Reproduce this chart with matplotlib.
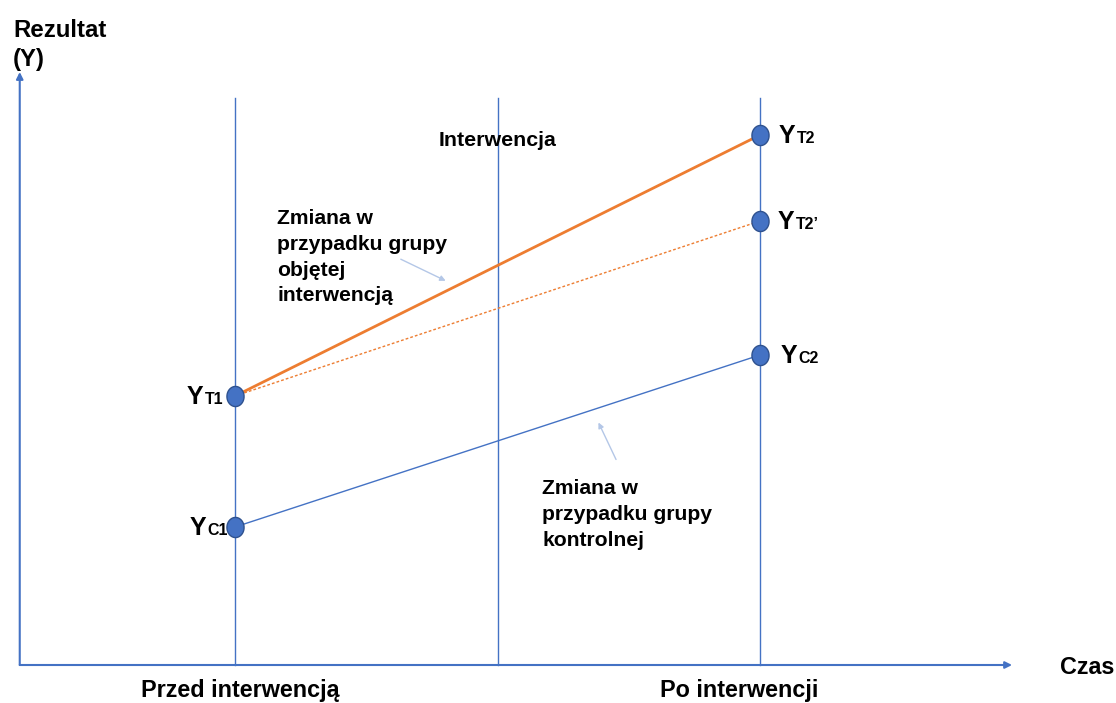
import numpy as np
import matplotlib
matplotlib.use('Agg')
import matplotlib.pyplot as plt

plt.rcParams['font.family'] = ['Liberation Sans', 'DejaVu Sans']
plt.rcParams['font.weight'] = 'bold'

# data
t = [1.0, 2.0]
t_int = 1.5
t_labels = ['Przed interwencją', 'Po interwencji']
treat = [2.69, 5.30]
counterf = [2.69, 4.44]
control = [1.38, 3.10]

blue = '#4472C4'
orange = '#ED7D31'
light = '#B4C7E7'

fig = plt.figure(figsize=(11.16, 7.03), dpi=100)
ax = fig.add_axes([0, 0, 1, 1])
ax.set_xlim(0.5524, 2.678)
ax.set_ylim(-0.38, 6.65)
ax.axis('off')

x0 = 0.59
ytop = 5.67

# axes arrows
ax.annotate('', xy=(x0, 5.93), xytext=(x0, 0), arrowprops=dict(arrowstyle='-|>', color=blue, lw=1.5, mutation_scale=10, shrinkA=0, shrinkB=0))
ax.annotate('', xy=(2.48, 0), xytext=(x0, 0), arrowprops=dict(arrowstyle='-|>', color=blue, lw=1.5, mutation_scale=10, shrinkA=0, shrinkB=0))

# vertical guide lines
for xv in [t[0], t_int, t[1]]:
    ax.plot([xv, xv], [0, ytop], color=blue, lw=1)

# group lines
ax.plot(t, treat, color=orange, lw=2)
ax.plot(t, counterf, color=orange, lw=1, ls=(0, (2, 1.5)))
ax.plot(t, control, color=blue, lw=1)

# points (slightly tall ellipses)
th = np.linspace(0, 2 * np.pi, 60)
ell = np.column_stack([0.85 * np.cos(th), np.sin(th)])
ax.plot(t + t + [t[1]], treat + control + [counterf[1]], ls='none', marker=ell, ms=14.5, color=blue, mec='#2F528F', mew=1, zorder=5)

def ylabel(x, y, sub, dx=0):
    ax.annotate('Y', (x, y), xytext=(dx, -6), textcoords='offset points', fontsize=18, ha='left', va='baseline')
    ax.annotate(sub, (x, y), xytext=(dx + 13, -6), textcoords='offset points', fontsize=11.5, ha='left', va='baseline')

ylabel(t[0], treat[0], 'T1', dx=-34.5)
ylabel(t[0], control[0], 'C1', dx=-33)
ylabel(t[1], treat[1], 'T2', dx=13.5)
ylabel(t[1], counterf[1], "T2’", dx=13)
ylabel(t[1], control[1], 'C2', dx=14.5)

ax.text(t_int, 5.24, 'Interwencja', fontsize=15.4, ha='center', va='center')
ax.text(1.080, 4.56, 'Zmiana w\nprzypadku grupy\nobjętej\ninterwencją', fontsize=15.2, ha='left', va='top', linespacing=1.45)
ax.text(1.585, 1.86, 'Zmiana w\nprzypadku grupy\nkontrolnej', fontsize=15.2, ha='left', va='top', linespacing=1.45)

ax.annotate('', xy=(1.406, 3.83), xytext=(1.311, 4.07), arrowprops=dict(arrowstyle='-|>', color=light, lw=1, mutation_scale=8))
ax.annotate('', xy=(1.690, 2.45), xytext=(1.728, 2.03), arrowprops=dict(arrowstyle='-|>', color=light, lw=1, mutation_scale=8))

for xi, lab in zip([1.01, 1.96], t_labels):
    ax.text(xi, -0.25, lab, fontsize=16.8, ha='center', va='center')
ax.text(2.571, -0.03, 'Czas', fontsize=16.8, ha='left', va='center')
ax.text(0.577, 6.46, 'Rezultat\n(Y)', fontsize=17.3, ha='left', va='top', linespacing=1.35)

fig.savefig('out.png', dpi=100)
